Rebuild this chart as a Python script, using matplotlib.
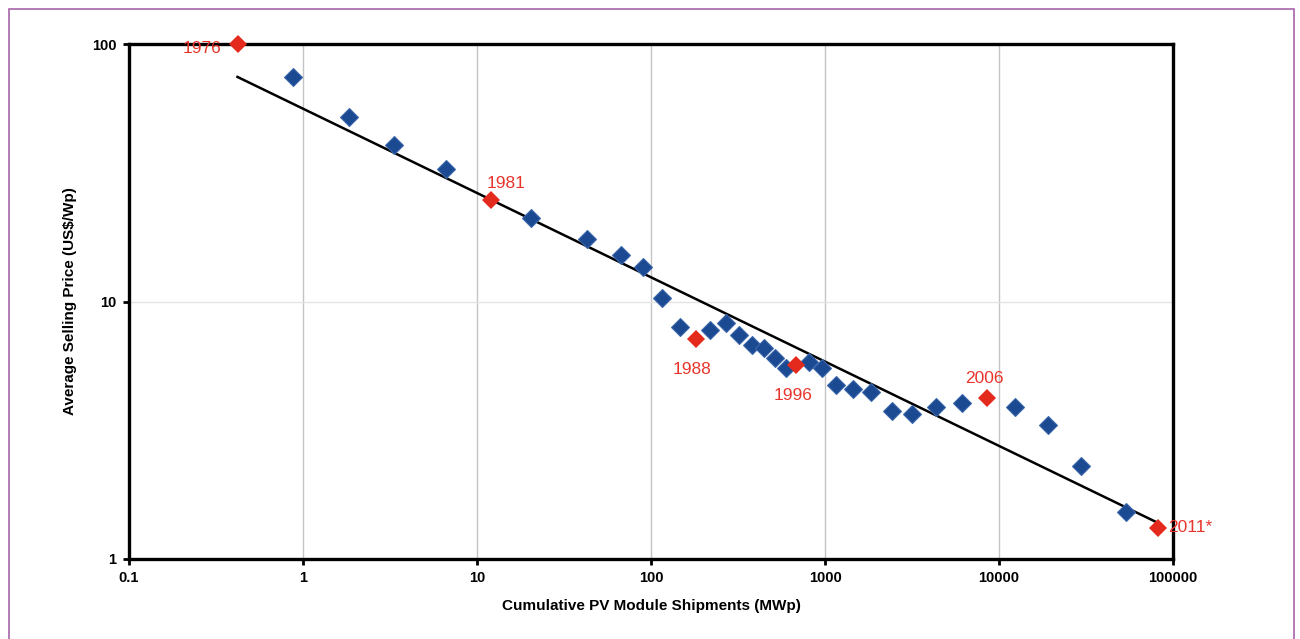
import numpy as np
import matplotlib.pyplot as plt
from matplotlib.patches import Rectangle

plt.rcParams['font.family'] = ['Liberation Sans', 'DejaVu Sans']

# =========================
# DADOS
# =========================
# pontos azuis (cumulativo MWp, preco US$/Wp)
azul_x = [0.877, 1.84, 3.33, 6.64, 20.4, 42.9, 67.2, 89.9, 115.7, 146.8,
          218, 270, 320, 380, 446, 516, 597, 809, 961, 1157,
          1449, 1837, 2427, 3162, 4345, 6124, 12360, 19130, 29600, 53700]
azul_y = [74.5, 52.1, 40.5, 32.7, 21.1, 17.5, 15.2, 13.6, 10.3, 7.96,
          7.75, 8.25, 7.41, 6.78, 6.6, 6.04, 5.52, 5.82, 5.52, 4.74,
          4.57, 4.45, 3.76, 3.66, 3.89, 4.04, 3.89, 3.31, 2.30, 1.52]

# pontos vermelhos (anos destacados)
anos = ["1976", "1981", "1988", "1996", "2006", "2011*"]
verm_x = [0.423, 12.0, 181, 681, 8530, 82000]
verm_y = [100, 24.8, 7.15, 5.67, 4.22, 1.32]

# linha de tendencia
tend_x = [0.42, 84000]
tend_y = [74.5, 1.37]

# posicao dos rotulos (offset em pontos)
offsets = [(-26, -3), (11, 12), (-3, -22), (-2, -22), (-2, 14), (23, 0)]

xticks = [0.1, 1, 10, 100, 1000, 10000, 100000]
xtick_labels = ["0.1", "1", "10", "100", "1000", "10000", "100000"]
yticks = [1, 10, 100]
ytick_labels = ["1", "10", "100"]

# =========================
# FIGURA
# =========================
fig = plt.figure(figsize=(13, 6.39), dpi=100)
ax = fig.add_axes([129 / 1300, 1 - 559 / 639, (1173 - 129) / 1300, (559 - 44) / 639])

# moldura roxa
fig.patches.append(Rectangle((9 / 1300, -0.1), (1294 - 9) / 1300, 1.1 - 9 / 639,
                             transform=fig.transFigure, fill=False,
                             edgecolor="#a865a8", linewidth=1.2))

ax.set_xscale("log")
ax.set_yscale("log")
ax.set_xlim(0.1, 100000)
ax.set_ylim(1, 100)

# grades
for xv in xticks[1:-1]:
    ax.axvline(xv, color="#c4c4c4", linewidth=1.0, zorder=0)
ax.axhline(10, color="#e4e4e4", linewidth=1.0, zorder=0)

ax.plot(tend_x, tend_y, color="black", linewidth=1.8, zorder=2)
ax.plot(azul_x, azul_y, linestyle="none", marker="D", markersize=9,
        color="#1c4a92", markeredgecolor="#3a66aa", markeredgewidth=0.8, zorder=3)
ax.plot(verm_x, verm_y, linestyle="none", marker="D", markersize=9.5,
        color="#e42a1c", markeredgewidth=0, zorder=4, clip_on=False)

for ano, xv, yv, off in zip(anos, verm_x, verm_y, offsets):
    ax.annotate(ano, (xv, yv), xytext=off, textcoords="offset points",
                ha="center", va="center", fontsize=12.5, color="#e8352b")

ax.set_xticks(xticks)
ax.set_xticklabels(xtick_labels)
ax.set_yticks(yticks)
ax.set_yticklabels(ytick_labels)
ax.minorticks_off()
ax.tick_params(axis="both", which="major", direction="out", length=4, width=2,
               labelsize=10.5, pad=5)
for lab in ax.get_xticklabels() + ax.get_yticklabels():
    lab.set_fontweight("bold")

for s in ax.spines.values():
    s.set_linewidth(2.4)
    s.set_color("black")

ax.set_xlabel("Cumulative PV Module Shipments (MWp)", fontsize=11, fontweight="bold",
              labelpad=10)
ax.set_ylabel("Average Selling Price (US$/Wp)", fontsize=11, fontweight="bold",
              labelpad=11)

fig.savefig("out.png", dpi=100)
